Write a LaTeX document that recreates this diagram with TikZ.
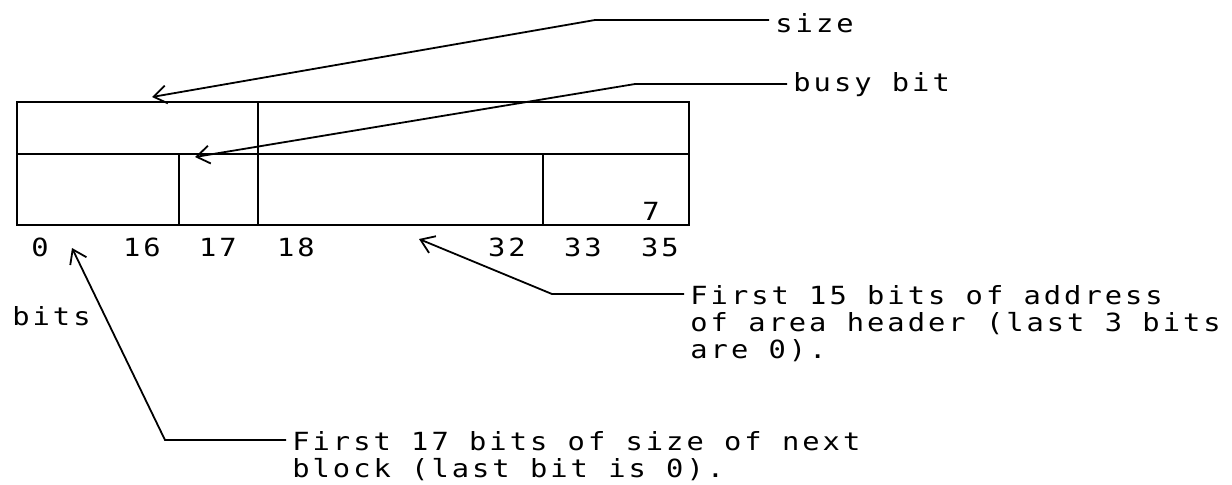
\documentclass[tikz,border=0pt]{standalone}
\usepackage{fontspec}
\setmonofont[FakeStretch=1.15,LetterSpace=12]{DejaVu Sans Mono}
\usetikzlibrary{arrows.meta}
\tikzset{
  field/.style={line width=1pt},
  leader/.style={line width=0.9pt,{Straight Barb[length=6.5pt,width=9pt]}-},
  lbl/.style={font=\ttfamily\fontsize{12.5}{13.6}\selectfont,inner ysep=0pt,inner xsep=3pt},
}
\begin{document}
\begin{tikzpicture}[x=0.5pt,y=-0.5pt]
    \useasboundingbox (0,0) rectangle (1232,484);
    % Word layout
    \draw[field] (17,102) rectangle (689,225);
    \draw[field] (17,154) -- (689,154);
    \draw[field] (258,102) -- (258,225);
    \draw[field] (179,154) -- (179,225);
    \draw[field] (543,154) -- (543,225);
    \node[lbl] (seven) at (651,211) {7};

    % Bit numbers
    \foreach \x/\b in {40/0,142/16,218/17,296/18,507/32,583/33,660/35}
        \node[lbl] (bit\b) at (\x,247) {\b};
    \node[lbl,anchor=west] (bits) at (6,316) {bits};

    % Field labels
    \node[lbl,anchor=west] (size) at (769,23) {size};
    \node[lbl,anchor=west] (busy) at (787,85) {busy bit};
    \node[lbl,anchor=north west,align=left] (addr) at (684,285)
        {First 15 bits of address\\of area header (last 3 bits\\are 0).};
    \node[lbl,anchor=north west,align=left] (next) at (286,431)
        {First 17 bits of size of next\\block (last bit is 0).};

    % Leaders
    \coordinate (sizetip) at (152,97);
    \coordinate (sizebend) at (595,20);
    \coordinate (busytip) at (195,157);
    \coordinate (busybend) at (635,84);
    \coordinate (addrtip) at (419,239);
    \coordinate (addrbend) at (552,294);
    \coordinate (nexttip) at (72,248);
    \coordinate (nextbend) at (165,440);
    \draw[leader] (sizetip) -- (sizebend) -- (sizebend -| size.west);
    \draw[leader] (busytip) -- (busybend) -- (busybend -| busy.west);
    \draw[leader] (addrtip) -- (addrbend) -- (addrbend -| addr.west);
    \draw[leader] (nexttip) -- (nextbend) -- (nextbend -| next.west);
\end{tikzpicture}
\end{document}
